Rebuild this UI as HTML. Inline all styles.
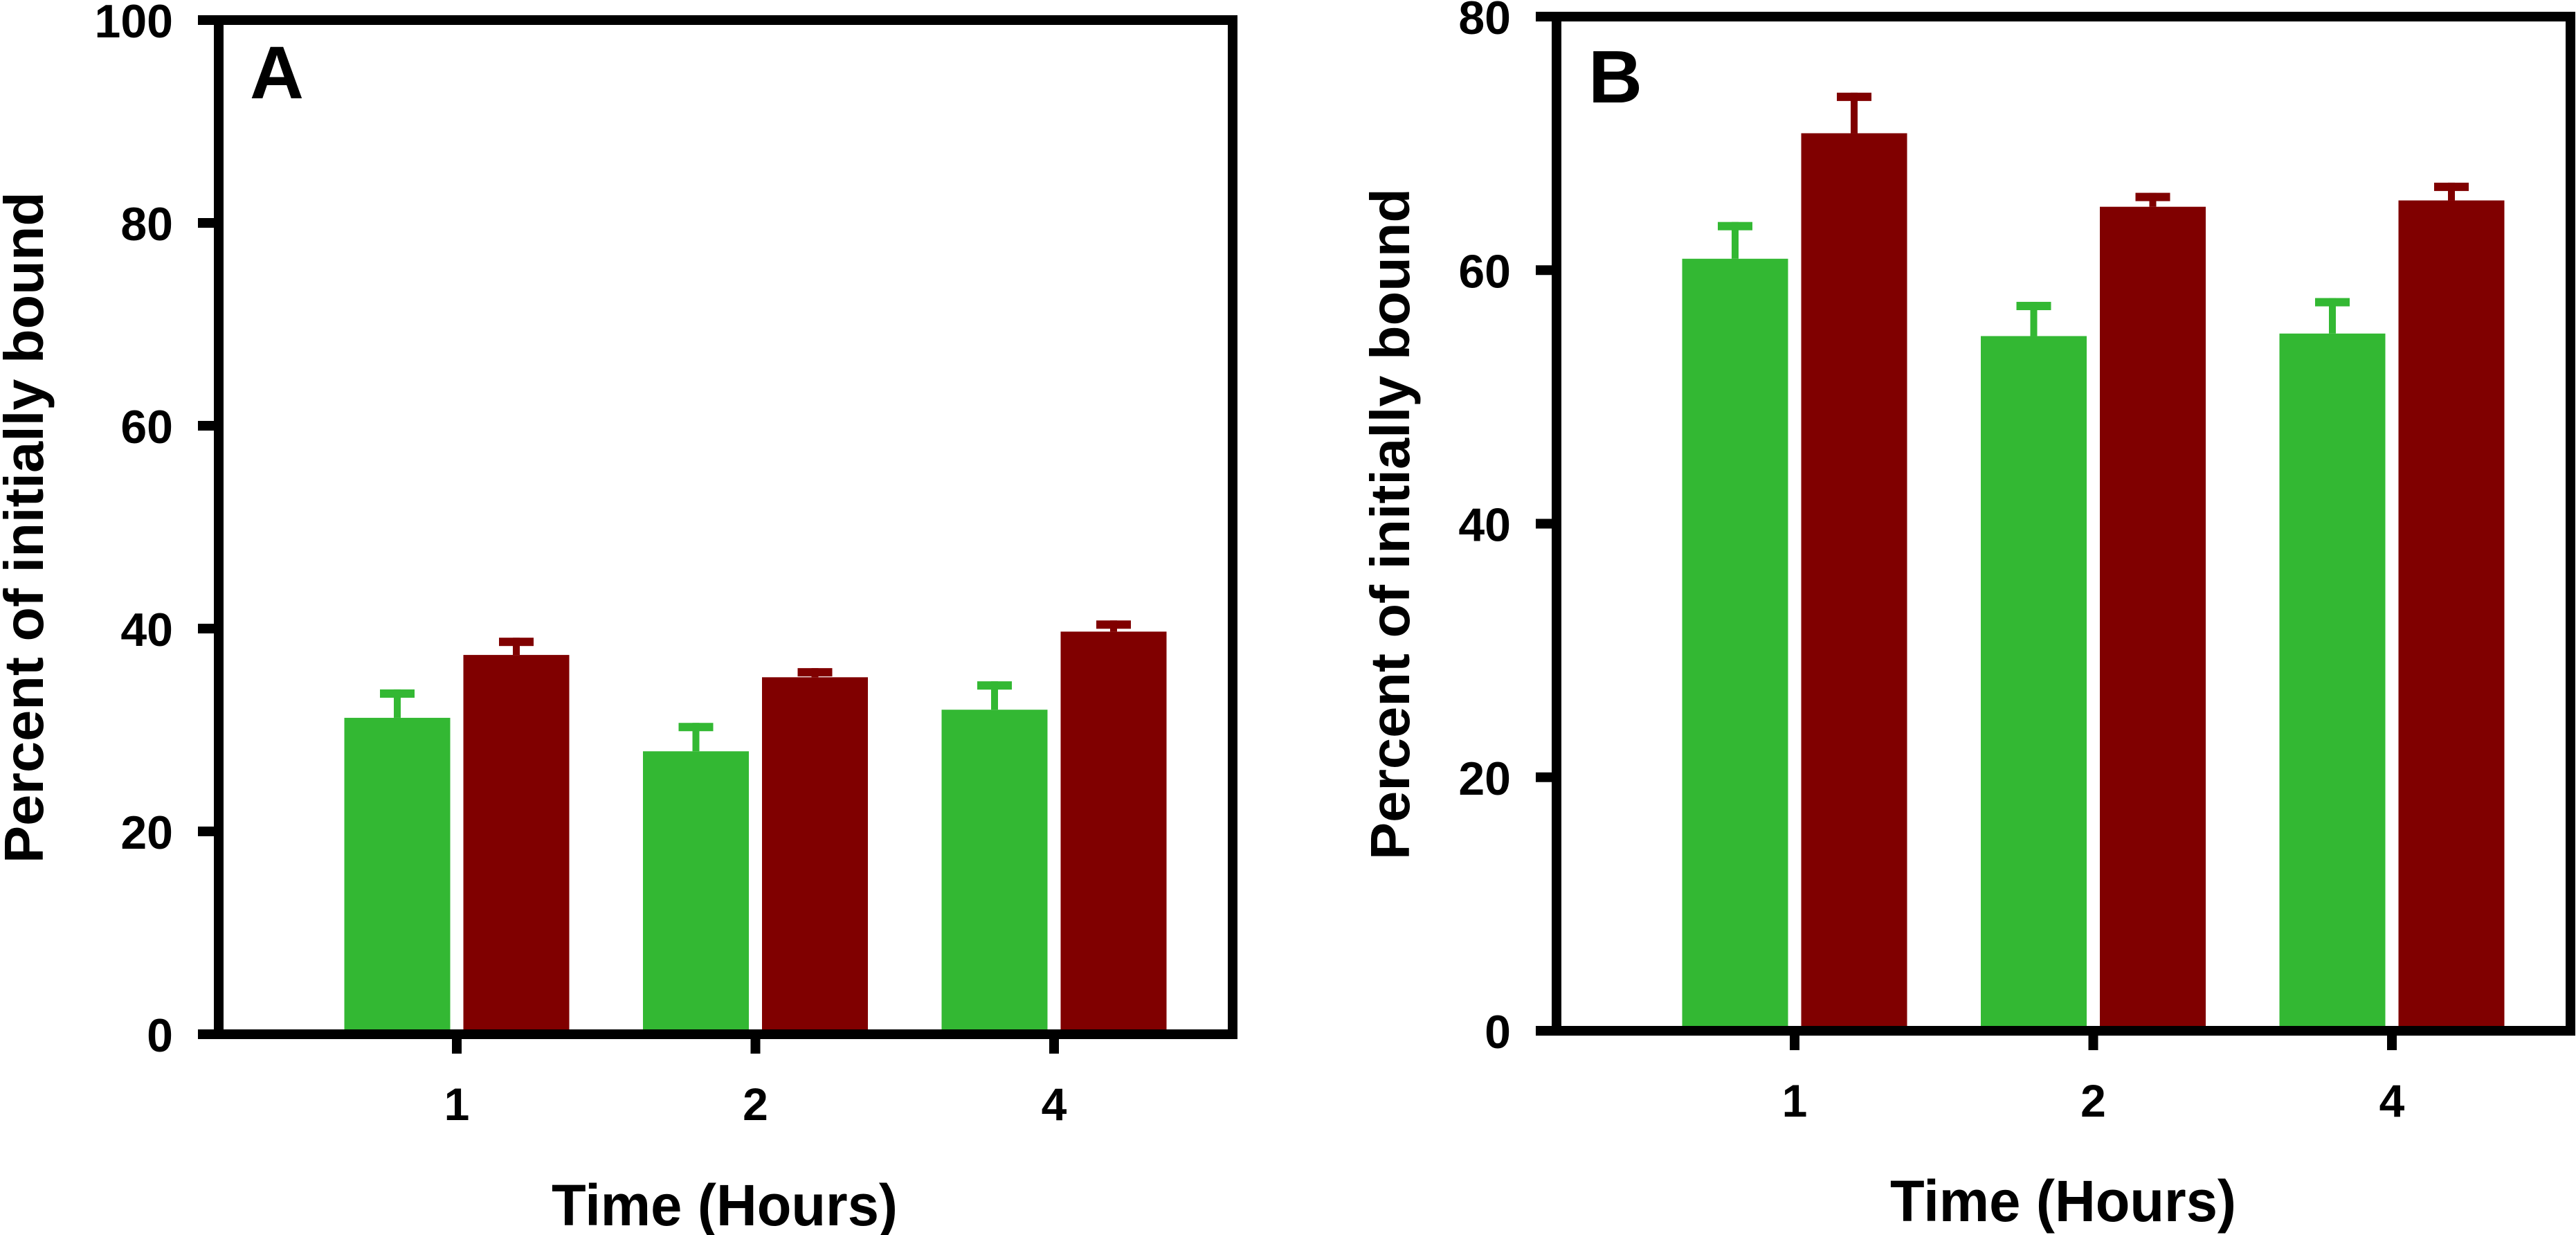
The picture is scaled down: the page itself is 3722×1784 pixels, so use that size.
<!DOCTYPE html>
<html><head><meta charset="utf-8"><style>
html,body{margin:0;padding:0;background:#fff;}
svg{display:block;font-family:"Liberation Sans",Arial,sans-serif;font-weight:bold;}
</style></head><body>
<svg id="chart" width="3722" height="1784" viewBox="0 0 3722 1784" xmlns="http://www.w3.org/2000/svg"></svg>
<script>
const categories = ["1", "2", "4"];
const seriesNames = ["green-series", "red-series"];
const aGreen = [31.2, 27.9, 32.0];
const aGreenErr = [2.8, 2.8, 2.8];
const aRed = [37.4, 35.2, 39.7];
const aRedErr = [1.7, 0.9, 1.1];
const aTicks = [0, 20, 40, 60, 80, 100];
const bGreen = [60.9, 54.8, 55.0];
const bGreenErr = [2.9, 2.7, 2.8];
const bRed = [70.8, 65.0, 65.5];
const bRedErr = [3.2, 1.1, 1.4];
const bTicks = [0, 20, 40, 60, 80];

const NS = "http://www.w3.org/2000/svg";
const svg = document.getElementById("chart");
function mk(tag, attrs, parent) {
  const e = document.createElementNS(NS, tag);
  for (const k in attrs) e.setAttribute(k, attrs[k]);
  (parent || svg).appendChild(e);
  return e;
}

function panel(cfg) {
  const g = mk("g", {});
  
  
  const yMax = cfg.ticks[cfg.ticks.length - 1];
  const y = v => cfg.bottom - (v / yMax) * (cfg.bottom - cfg.top);
  const xc = i => cfg.xTicks0 + i * cfg.xStep;
  const bw = cfg.bw, gap = cfg.gap;
  const sets = [[cfg.green, cfg.greenErr, "#33b833"], [cfg.red, cfg.redErr, "#800000"]];
  sets.forEach((s, si) => {
    s[0].forEach((v, i) => {
      const x0 = si === 0 ? xc(i) - gap / 2 - bw : xc(i) + gap / 2;
      const cx = x0 + bw / 2;
      const eTop = y(v + s[1][i]);
      const stem = mk("rect", {x: cx - 5, y: eTop, width: 10, height: y(v) - eTop, fill: s[2]}, g);
      
      
      const cap = mk("rect", {x: cx - 25, y: eTop, width: 50, height: 12, fill: s[2]}, g);
      
      
      const r = mk("rect", {x: x0, y: y(v), width: bw, height: cfg.bottom - y(v), fill: s[2]}, g);
      
      
    });
  });
  const frame = mk("rect", {x: cfg.left, y: cfg.top, width: cfg.right - cfg.left, height: cfg.bottom - cfg.top, fill: "none", stroke: "#000", "stroke-width": 14}, g);
  
  
  cfg.ticks.forEach(t => {
    const ln = mk("line", {x1: cfg.left - 30, x2: cfg.left, y1: y(t), y2: y(t), stroke: "#000", "stroke-width": 14}, g);
    
    
    const tx = mk("text", {x: cfg.left - 66, y: y(t) + 25, "font-size": 68, "text-anchor": "end"}, g);
    tx.textContent = t;
    
    
  });
  categories.forEach((c, i) => {
    const ln = mk("line", {x1: xc(i), x2: xc(i), y1: cfg.bottom, y2: cfg.bottom + 28, stroke: "#000", "stroke-width": 14}, g);
    
    
    const tx = mk("text", {x: xc(i), y: cfg.bottom + 124, "font-size": 66, "text-anchor": "middle"}, g);
    tx.textContent = c;
    
    
  });
  const yt = mk("text", {x: 0, y: 0, "font-size": 80, "text-anchor": "middle", textLength: 970, lengthAdjust: "spacingAndGlyphs", transform: `translate(${cfg.yTitleX},${cfg.yTitleY}) rotate(-90)`}, g);
  yt.textContent = "Percent of initially bound";
  
  
  const xt = mk("text", {x: cfg.xTitleX, y: cfg.xTitleY, "font-size": 84, "text-anchor": "middle", textLength: 500, lengthAdjust: "spacingAndGlyphs"}, g);
  xt.textContent = "Time (Hours)";
  
  
  const pl = mk("text", {x: cfg.letterX, y: cfg.letterY, "font-size": 108}, g);
  pl.textContent = cfg.letter;
  
  
}

panel({letter: "A", left: 316, right: 1781, top: 29, bottom: 1494, ticks: aTicks,
  green: aGreen, greenErr: aGreenErr, red: aRed, redErr: aRedErr,
  xTicks0: 660, xStep: 431.5, bw: 153, gap: 19,
  yTitleX: 62, yTitleY: 762, xTitleX: 1047, xTitleY: 1770, letterX: 361, letterY: 142});
panel({letter: "B", left: 2249, right: 3714, top: 24, bottom: 1489, ticks: bTicks,
  green: bGreen, greenErr: bGreenErr, red: bRed, redErr: bRedErr,
  xTicks0: 2593, xStep: 431.5, bw: 153, gap: 19,
  yTitleX: 2036, yTitleY: 757, xTitleX: 2981, xTitleY: 1764, letterX: 2295, letterY: 148});
</script>
</body></html>
